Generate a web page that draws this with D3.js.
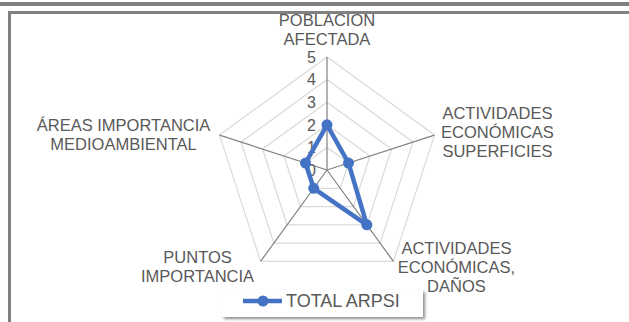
<!DOCTYPE html>
<html>
<head>
<meta charset="utf-8">
<script src="https://cdn.jsdelivr.net/npm/d3@7"></script>
<style>
  body { margin: 0; background: #fff; }
  svg { display: block; font-family: "Liberation Sans", Arial, sans-serif; }
</style>
</head>
<body>
<div id="chart"></div>
<script>
// data
var categories = [
  ["POBLACION", "AFECTADA"],
  ["ACTIVIDADES", "ECONÓMICAS", "SUPERFICIES"],
  ["ACTIVIDADES", "ECONÓMICAS,", "DAÑOS"],
  ["PUNTOS", "IMPORTANCIA"],
  ["ÁREAS IMPORTANCIA", "MEDIOAMBIENTAL"]
];
var seriesName = "TOTAL ARPSI";
var values = [2, 1, 3, 1, 1];
var ticks = [0, 1, 2, 3, 4, 5];

var width = 629, height = 322;
var cx = 327, cy = 170, radius = 113;

// where each category label sits, relative to its spoke end
var labelOffset = [[0, -27], [63, -3], [63, 6], [-63, 5], [-96, -1]];
var lineH = 19;

var svg = d3.select("#chart").append("svg")
  .attr("width", width).attr("height", height);

// frame
svg.append("rect").attr("x", 0).attr("y", 2).attr("width", width).attr("height", 4).attr("fill", "#7f7f7f");
svg.append("rect").attr("x", 8).attr("y", 11).attr("width", width - 8).attr("height", 3).attr("fill", "#808080");
svg.append("rect").attr("x", 8).attr("y", 11).attr("width", 3).attr("height", height - 11).attr("fill", "#808080");

var r = d3.scaleLinear().domain([0, 5]).range([0, radius]);
var angle = d3.scaleLinear().domain([0, categories.length]).range([0, 2 * Math.PI]);

function pt(i, v) {
  var a = angle(i);
  return [cx + r(v) * Math.sin(a), cy - r(v) * Math.cos(a)];
}

var g = svg.append("g");

// grid pentagons
ticks.filter(function (t) { return t > 0; }).forEach(function (t) {
  g.append("path")
    .attr("d", d3.line()(categories.map(function (c, i) { return pt(i, t); })) + "Z")
    .attr("fill", "none")
    .attr("stroke", "#d9d9d9")
    .attr("stroke-width", 1.2);
});

// spokes
categories.forEach(function (c, i) {
  var p = pt(i, 5);
  g.append("line")
    .attr("x1", cx).attr("y1", cy).attr("x2", p[0]).attr("y2", p[1])
    .attr("stroke", "#808080").attr("stroke-width", 1.2);
});

// tick labels
g.selectAll(".tick").data(ticks).enter().append("text")
  .attr("x", cx - 11)
  .attr("y", function (d) { return cy - r(d); })
  .attr("dy", "0.36em")
  .attr("text-anchor", "end")
  .attr("font-size", 16)
  .attr("fill", "#595959")
  .text(function (d) { return d; });

// category labels
categories.forEach(function (lines, i) {
  var p = pt(i, 5);
  var x = p[0] + labelOffset[i][0];
  var y0 = p[1] + labelOffset[i][1] - (lines.length - 1) * lineH / 2;
  var t = g.append("text")
    .attr("text-anchor", "middle")
    .attr("font-size", 16.5)
    .attr("fill", "#595959");
  lines.forEach(function (s, k) {
    t.append("tspan").attr("x", x).attr("y", y0 + k * lineH).attr("dy", "0.36em").text(s);
  });
});

// series
var radial = values.map(function (v, i) { return pt(i, v); });
g.append("path")
  .attr("d", d3.line()(radial) + "Z")
  .attr("fill", "none")
  .attr("stroke", "#4472c4")
  .attr("stroke-width", 4.5)
  .attr("stroke-linejoin", "round");

g.selectAll(".dot").data(radial).enter().append("circle")
  .attr("cx", function (d) { return d[0]; })
  .attr("cy", function (d) { return d[1]; })
  .attr("r", 5.5)
  .attr("fill", "#4472c4");

// legend
var defs = svg.append("defs");
var f = defs.append("filter").attr("id", "sh").attr("x", "-10%").attr("y", "-30%").attr("width", "130%").attr("height", "170%");
f.append("feDropShadow").attr("dx", 2).attr("dy", 2).attr("stdDeviation", 1.5).attr("flood-color", "#000").attr("flood-opacity", 0.45);

var lg = svg.append("g").attr("transform", "translate(222,290)");
lg.append("rect").attr("width", 201).attr("height", 27).attr("fill", "#fff").attr("filter", "url(#sh)");
lg.append("line").attr("x1", 21).attr("x2", 60).attr("y1", 11).attr("y2", 11)
  .attr("stroke", "#4472c4").attr("stroke-width", 4.5);
lg.append("circle").attr("cx", 41).attr("cy", 11).attr("r", 5.5).attr("fill", "#4472c4");
lg.append("text").attr("x", 64).attr("y", 11).attr("dy", "0.36em")
  .attr("font-size", 18).attr("fill", "#595959").text(seriesName);
</script>
</body>
</html>
